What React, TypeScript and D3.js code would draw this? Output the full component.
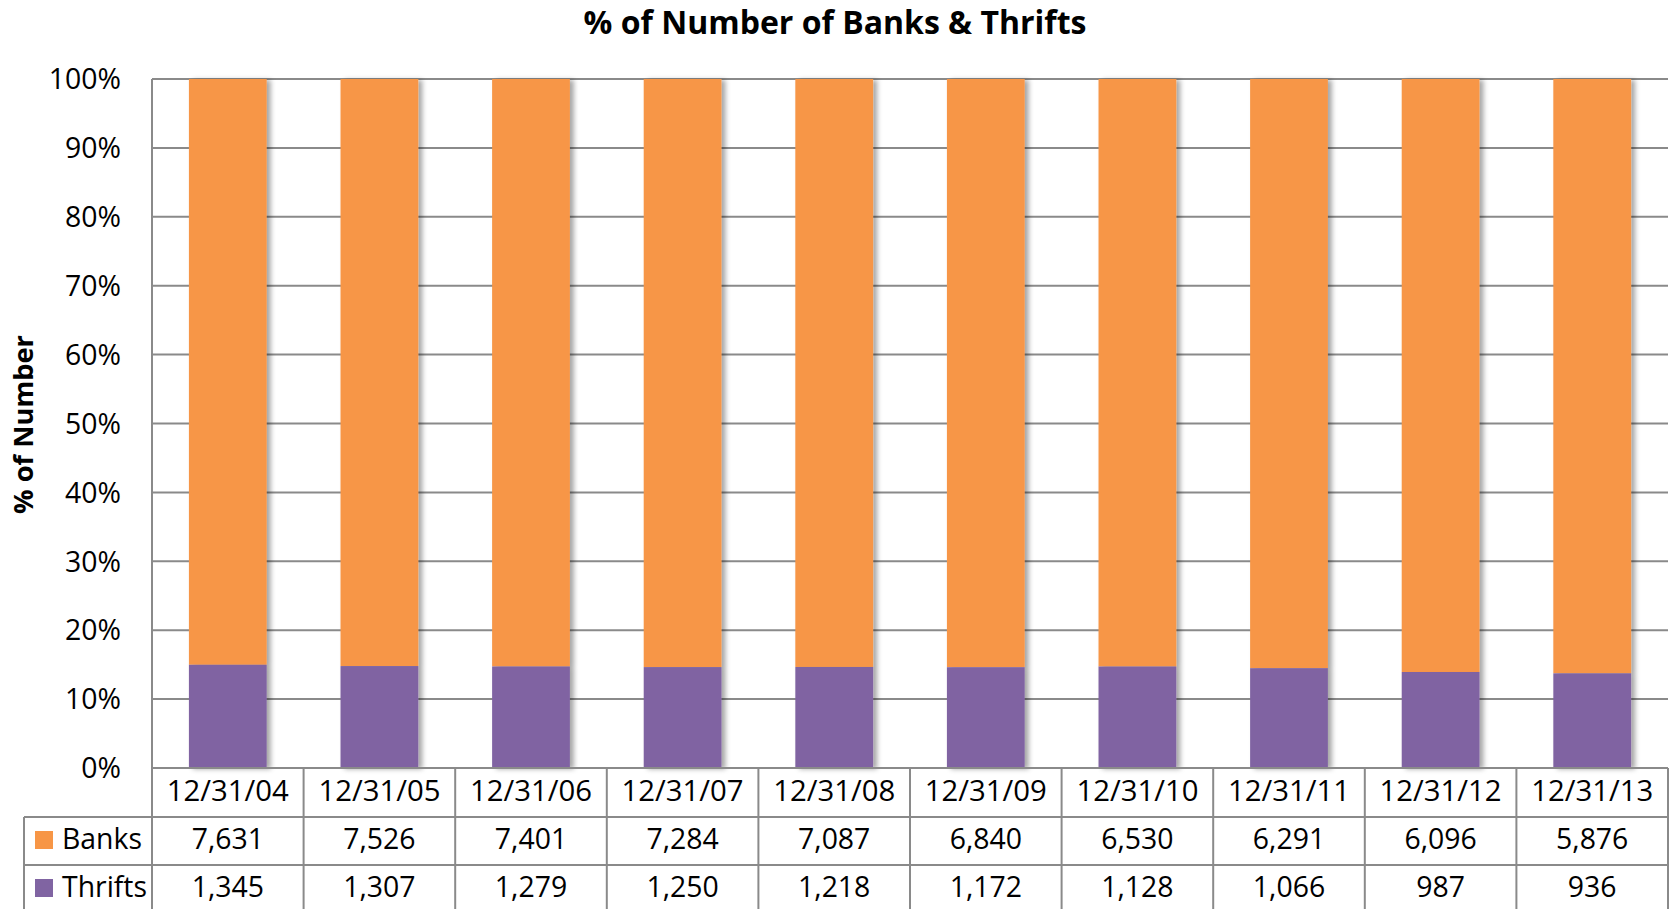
import React from "react";
import * as d3 from "d3";

const categories = ["12/31/04", "12/31/05", "12/31/06", "12/31/07", "12/31/08", "12/31/09", "12/31/10", "12/31/11", "12/31/12", "12/31/13"];
const banks = [7631, 7526, 7401, 7284, 7087, 6840, 6530, 6291, 6096, 5876];
const thrifts = [1345, 1307, 1279, 1250, 1218, 1172, 1128, 1066, 987, 936];
const yTicks = [0, 0.1, 0.2, 0.3, 0.4, 0.5, 0.6, 0.7, 0.8, 0.9, 1];

const W = 1671;
const H = 909;
const ORANGE = "#F79646";
const PURPLE = "#8064A2";
const GRID = "#8a8a8a";
const FONT = "'Open Sans', sans-serif";

export default function App() {
  const left = 152;
  const right = 1668;
  const top = 79;
  const bottom = 768;
  const x = d3.scaleBand<string>().domain(categories).range([left, right]).paddingInner(0.487).paddingOuter(0.2435);
  const y = d3.scaleLinear().domain([0, 1]).range([bottom, top]);
  const step = x.step();
  const fmt = d3.format(",");
  const pct = d3.format(".0%");
  const rowDate = [768, 817];
  const rowBanks = [817, 865];
  const rowThrifts = [865, 913];
  const tableLeft = 24;

  const stacks = categories.map((c, i) => {
    const total = banks[i] + thrifts[i];
    return { c, t: thrifts[i] / total, b: 1 };
  });

  return (
    <svg width={W} height={H} style={{ position: "absolute", left: 0, top: 0, background: "#fff" }} fontFamily={FONT}>
      <defs>
        <filter id="sh" x="-20%" y="-5%" width="150%" height="110%">
          <feDropShadow dx="4" dy="1" stdDeviation="2.5" floodColor="#000" floodOpacity="0.35" />
        </filter>
      </defs>
      <text x={835} y={34} textAnchor="middle" fontSize={32} fontWeight={700} fill="#000">% of Number of Banks &amp; Thrifts</text>
      <text transform={`translate(33,${(top + bottom) / 2 + 1}) rotate(-90)`} textAnchor="middle" fontSize={27.3} fontWeight={700} fill="#000">% of Number</text>

      {yTicks.map((t) => (
        <g key={t}>
          <line x1={left} x2={right} y1={y(t)} y2={y(t)} stroke={GRID} strokeWidth={2} />
          <text x={121} y={y(t)} dy="0.36em" textAnchor="end" fontSize={28.4} fill="#000">{pct(t)}</text>
        </g>
      ))}
      <line x1={left} x2={left} y1={top} y2={bottom} stroke={GRID} strokeWidth={2} />

      {stacks.map((s) => (
        <g key={s.c} filter="url(#sh)">
          <rect x={x(s.c)} width={x.bandwidth()} y={y(s.b)} height={y(s.t) - y(s.b)} fill={ORANGE} />
          <rect x={x(s.c)} width={x.bandwidth()} y={y(s.t)} height={y(0) - y(s.t)} fill={PURPLE} />
        </g>
      ))}

      {/* data table */}
      <g stroke={GRID} strokeWidth={2}>
        <line x1={left} x2={right} y1={rowDate[0]} y2={rowDate[0]} />
        <line x1={tableLeft} x2={right} y1={rowBanks[0]} y2={rowBanks[0]} />
        <line x1={tableLeft} x2={right} y1={rowThrifts[0]} y2={rowThrifts[0]} />
        <line x1={tableLeft} x2={tableLeft} y1={rowBanks[0]} y2={H} />
        {categories.map((c, i) => (
          <line key={c} x1={left + i * step} x2={left + i * step} y1={rowDate[0]} y2={H} />
        ))}
        <line x1={right} x2={right} y1={rowDate[0]} y2={H} />
      </g>
      {categories.map((c, i) => {
        const cx = (x(c) as number) + x.bandwidth() / 2;
        return (
          <g key={c} fill="#000" textAnchor="middle">
            <text x={cx} y={801} fontSize={29.3}>{c}</text>
            <text x={cx} y={849} fontSize={28.4}>{fmt(banks[i])}</text>
            <text x={cx} y={897} fontSize={28.4}>{fmt(thrifts[i])}</text>
          </g>
        );
      })}
      <rect x={35} y={831} width={18} height={18} fill={ORANGE} />
      <rect x={35} y={879} width={18} height={18} fill={PURPLE} />
      <text x={62} y={849} fontSize={28.4} fill="#000">Banks</text>
      <text x={62} y={897} fontSize={28.4} fill="#000">Thrifts</text>
    </svg>
  );
}
